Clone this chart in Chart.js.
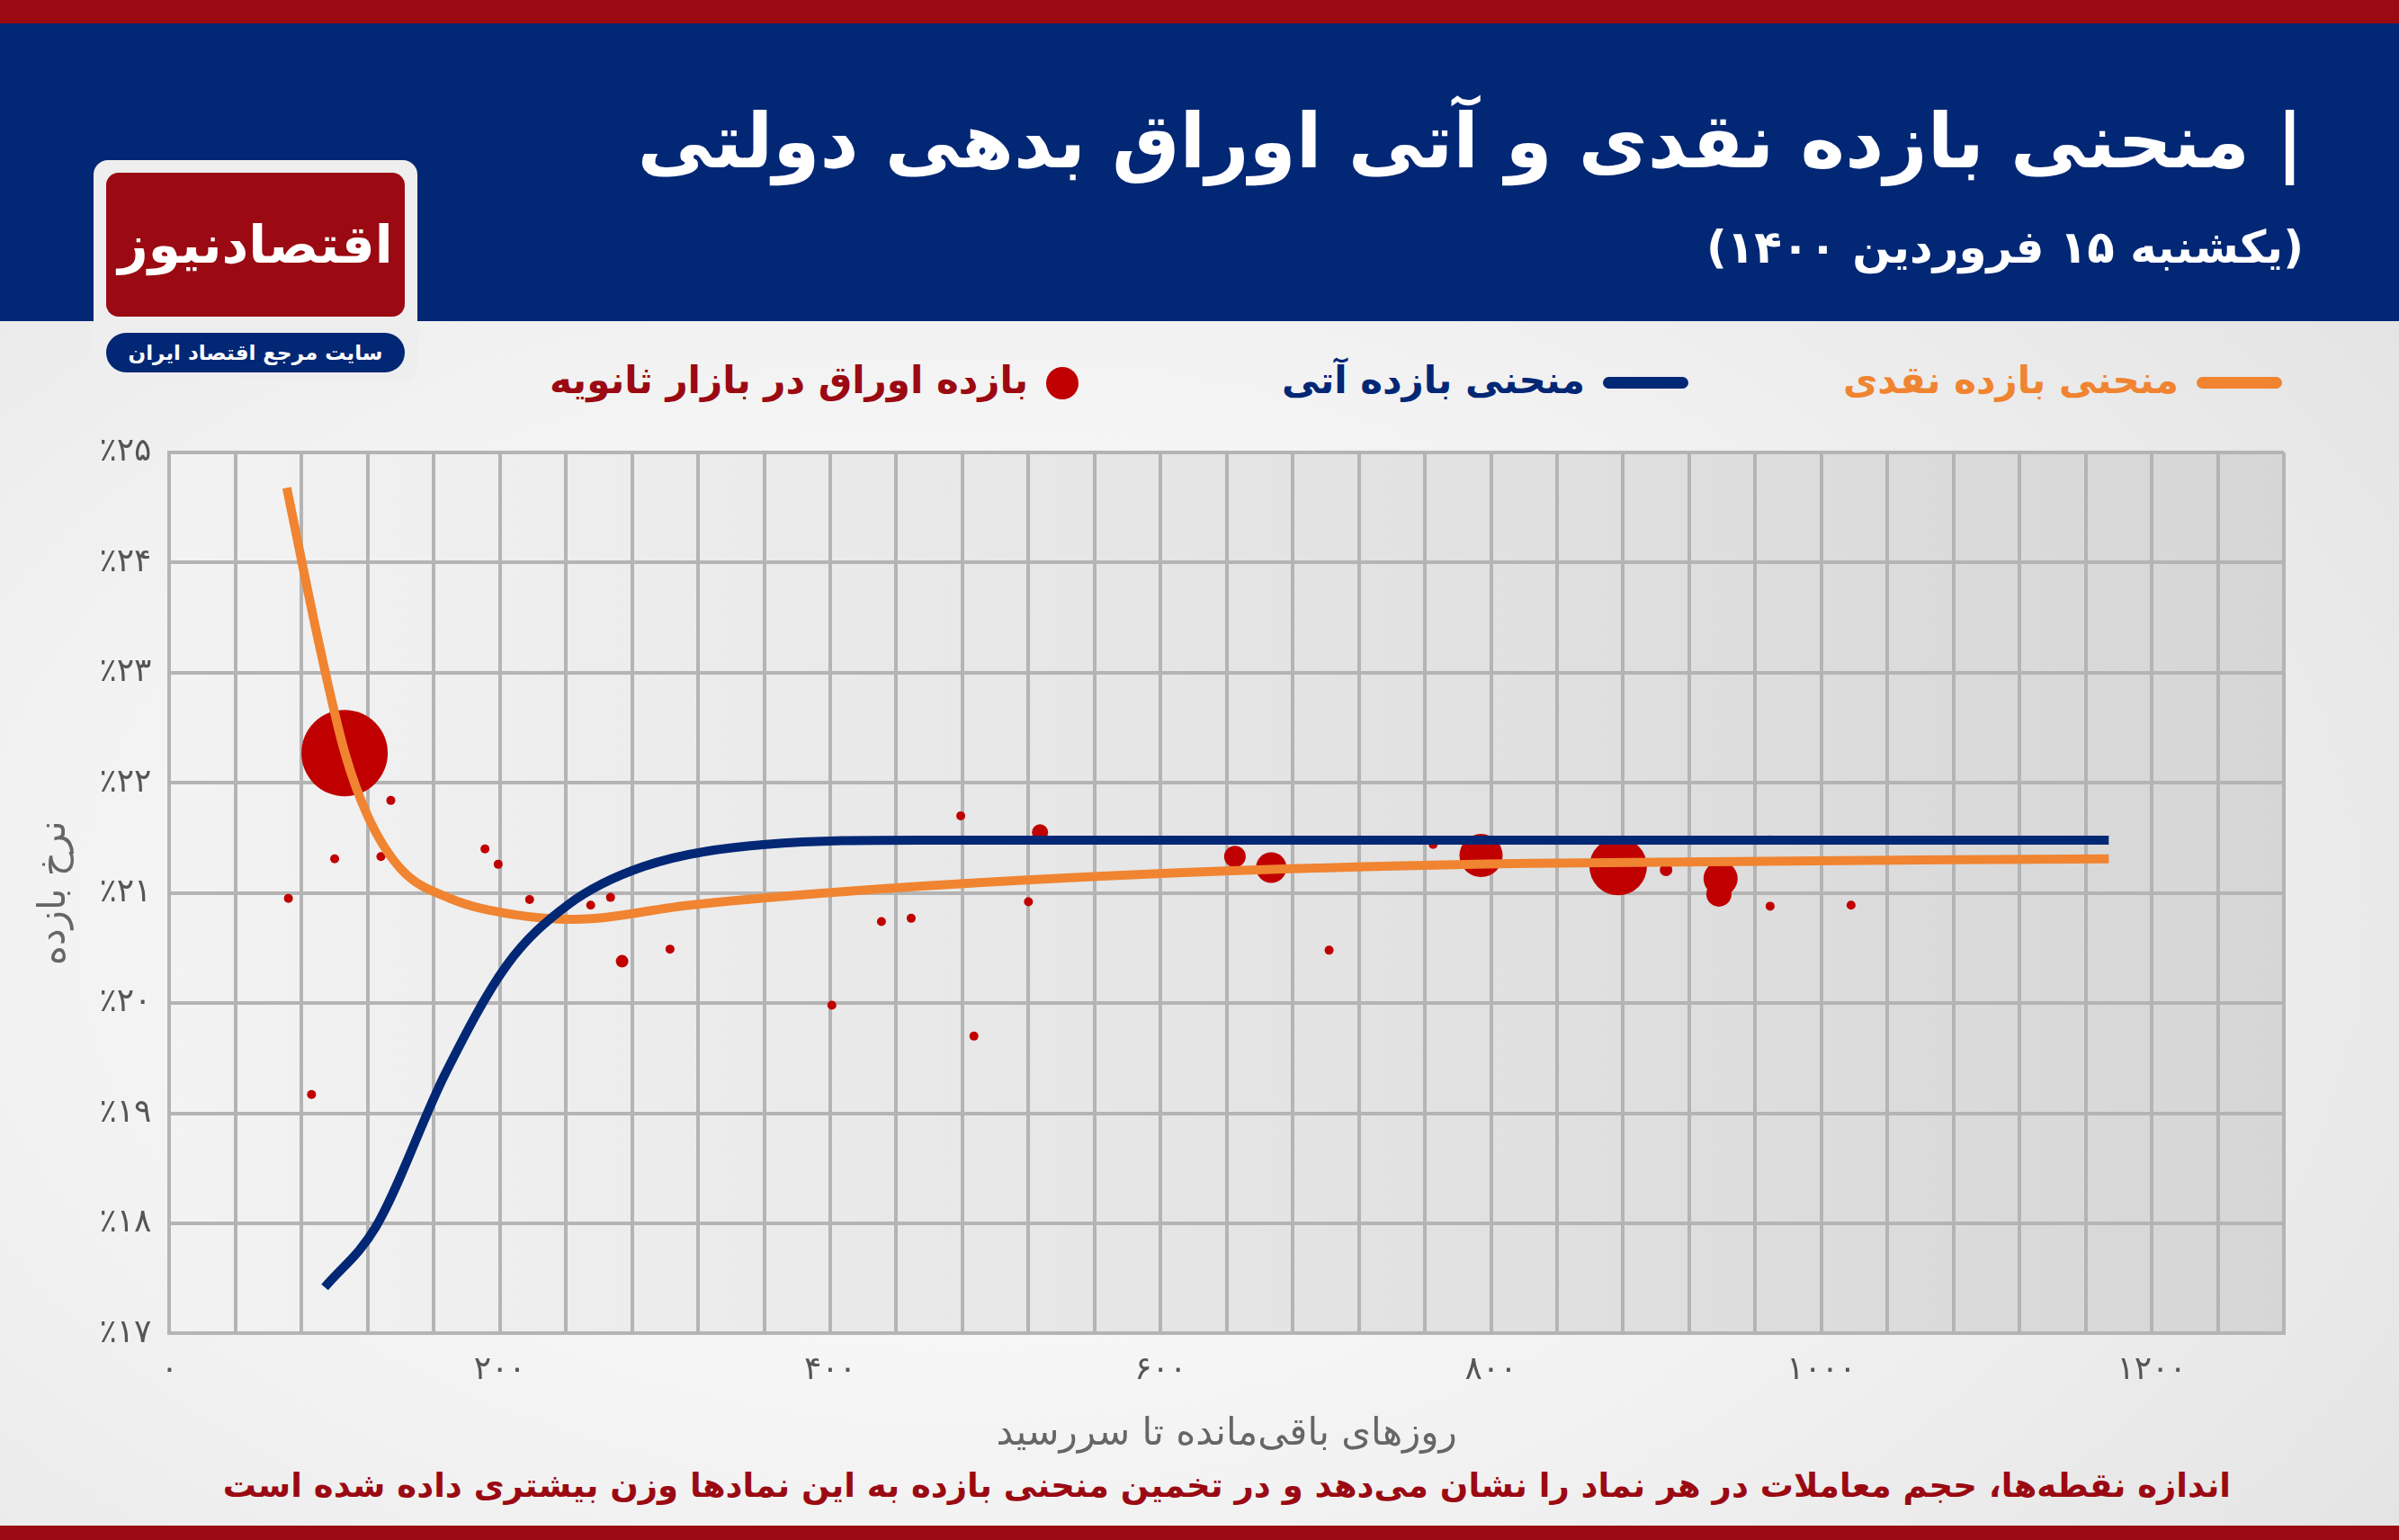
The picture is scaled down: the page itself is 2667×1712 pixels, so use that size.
<!DOCTYPE html>
<html><head><meta charset="utf-8">
<script src="https://cdn.jsdelivr.net/npm/chart.js@4"></script>
<style>
body{margin:0;width:2667px;height:1712px;overflow:hidden;font-family:"DejaVu Sans",sans-serif;
 background:radial-gradient(ellipse at 40% 60%,#ffffff 0%,#f1f1f1 50%,#dedede 100%);position:relative}
#topbar{position:absolute;left:0;top:0;width:2667px;height:26px;background:#9b0a12}
#head{position:absolute;left:0;top:26px;width:2667px;height:331px;background:#022775}
#title{position:absolute;right:106px;top:82px;color:#fff;font-size:84px;font-weight:bold;direction:rtl}
#sub{position:absolute;right:106px;top:220px;color:#fff;font-size:50px;font-weight:bold;direction:rtl}
#logo{position:absolute;left:104px;top:178px;width:360px;height:245px;background:#eee;border-radius:16px}
#logoin{position:absolute;left:14px;top:14px;width:332px;height:160px;background:#9b0a12;border-radius:14px;color:#fff;font-size:58px;font-weight:bold;text-align:center;line-height:160px;direction:rtl}
#pill{position:absolute;left:14px;top:192px;width:332px;height:44px;background:#022775;border-radius:22px;color:#fff;font-size:23px;font-weight:bold;text-align:center;line-height:44px;direction:rtl;white-space:nowrap}
.leg{position:absolute;top:398px;font-size:42px;font-weight:bold;direction:rtl;white-space:nowrap}
.sw{display:inline-block;vertical-align:middle;margin-left:20px}
#wrap{position:absolute;left:0;top:455px;width:2667px;height:1175px}
#note{position:absolute;right:187px;top:1630px;color:#9b0a12;font-size:37px;font-weight:bold;direction:rtl;white-space:nowrap}
#botbar{position:absolute;left:0;top:1696px;width:2667px;height:16px;background:#9b0a12}
</style></head><body>
<div id="topbar"></div>
<div id="head">
<div id="title">| منحنی بازده نقدی و آتی اوراق بدهی دولتی</div>
<div id="sub">(یکشنبه ۱۵ فروردین ۱۴۰۰)</div>
</div>
<div id="logo"><div id="logoin">اقتصادنیوز</div><div id="pill">سایت مرجع اقتصاد ایران</div></div>
<div class="leg" style="right:130px;color:#f08431"><span class="sw" style="width:95px;height:13px;border-radius:7px;background:#f08431"></span>منحنی بازده نقدی</div>
<div class="leg" style="right:790px;color:#022775"><span class="sw" style="width:95px;height:13px;border-radius:7px;background:#022775"></span>منحنی بازده آتی</div>
<div class="leg" style="right:1468px;color:#9b0a12"><span class="sw" style="width:36px;height:36px;border-radius:50%;background:#c00000"></span>بازده اوراق در بازار ثانویه</div>
<div id="wrap"><canvas id="c"></canvas></div>
<div id="note">اندازه نقطه‌ها، حجم معاملات در هر نماد را نشان می‌دهد و در تخمین منحنی بازده به این نمادها وزن بیشتری داده شده است</div>
<div id="botbar"></div>
<script>
const spotX = [71, 90, 106, 120, 140, 170, 210, 245, 315, 454, 639, 824, 1174];
const spotY = [24.68, 23.3, 22.28, 21.7, 21.22, 20.95, 20.8, 20.76, 20.89, 21.06, 21.2, 21.27, 21.31];
const futX = [94, 125, 167, 204, 241, 287, 361, 454, 800, 1174];
const futY = [17.42, 17.97, 19.36, 20.34, 20.89, 21.24, 21.44, 21.48, 21.48, 21.48];
const bondX = [72, 86, 100, 106, 128, 134, 191, 199, 218, 255, 267, 274, 303, 401, 431, 449, 479, 487, 520, 527, 645, 667, 702, 765, 794, 877, 906, 939, 938, 969, 969, 1018];
const bondY = [20.95, 19.17, 21.31, 22.27, 21.33, 21.84, 21.40, 21.26, 20.94, 20.89, 20.96, 20.38, 20.49, 19.98, 20.74, 20.77, 21.70, 19.70, 20.92, 21.55, 21.33, 21.23, 20.48, 21.44, 21.34, 21.24, 21.21, 21.13, 20.99, 21.49, 20.88, 20.89];
const bondSize = [5, 5, 5, 48, 5, 5, 5, 5, 5, 5, 5, 7, 5, 5, 5, 5, 5, 5, 5, 9, 12, 17, 5, 5, 24, 32, 7, 19, 14, 4, 5, 5];

const fa = n => String(n).replace(/\d/g, d => '۰۱۲۳۴۵۶۷۸۹'[d]);
const pts = (xs, ys) => xs.map((x, i) => ({x: x, y: ys[i]}));

const bgPlugin = {
  id: 'bg',
  beforeDraw(ch) {
    const a = ch.chartArea, ctx = ch.ctx;
    const g = ctx.createLinearGradient(a.left, 0, a.right, 0);
    g.addColorStop(0, '#f3f3f3'); g.addColorStop(1, '#d6d6d6');
    ctx.save(); ctx.fillStyle = g;
    ctx.fillRect(a.left, a.top, a.right - a.left, a.bottom - a.top);
    ctx.restore();
  }
};

new Chart(document.getElementById('c'), {
  type: 'scatter',
  data: {
    datasets: [
      {type: 'line', data: pts(futX, futY), borderColor: '#022775', borderWidth: 10, pointRadius: 0, cubicInterpolationMode: 'monotone'},
      {type: 'line', data: pts(spotX, spotY), borderColor: '#f08431', borderWidth: 10, pointRadius: 0, cubicInterpolationMode: 'monotone'},
      {data: pts(bondX, bondY), backgroundColor: '#c00000', borderWidth: 0, pointRadius: bondSize}
    ]
  },
  options: {
    responsive: true, maintainAspectRatio: false, animation: false,
    layout: {padding: {left: 32, right: 128, top: 2, bottom: 6}},
    plugins: {legend: {display: false}, tooltip: {enabled: false}},
    scales: {
      x: {type: 'linear', min: 0, max: 1280,
        grid: {color: '#b4b4b4', lineWidth: 4, drawTicks: false},
        border: {color: '#b4b4b4', width: 4},
        ticks: {stepSize: 40, autoSkip: false, maxRotation: 0, padding: 20, color: '#555', font: {size: 36, family: 'DejaVu Sans'},
          callback: v => v % 200 === 0 ? fa(v) : ''},
        title: {display: true, text: 'روزهای باقی‌مانده تا سررسید', color: '#666', font: {size: 42, family: 'DejaVu Sans'}, padding: {top: 4}}
      },
      y: {min: 17, max: 25,
        grid: {color: '#b4b4b4', lineWidth: 4, drawTicks: false},
        border: {color: '#b4b4b4', width: 4},
        ticks: {stepSize: 1, padding: 20, color: '#555', font: {size: 36, family: 'DejaVu Sans'}, callback: v => '٪' + fa(v)},
        title: {display: true, text: 'نرخ بازده', color: '#666', font: {size: 42, family: 'DejaVu Sans'}}
      }
    }
  },
  plugins: [bgPlugin]
});
</script>
</body></html>
